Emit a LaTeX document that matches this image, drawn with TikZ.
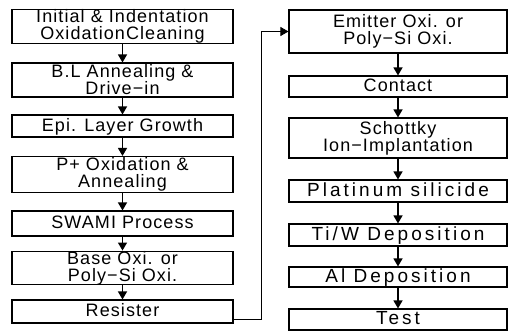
\documentclass[tikz,border=0pt]{standalone}
\usepackage{fontspec}
\setmainfont{Liberation Sans}
\usetikzlibrary{arrows.meta}

\begin{document}
\begin{tikzpicture}[
        x=1pt, y=-1pt,
        box/.style={draw, rectangle, line width=1.1pt, inner sep=0pt, align=center, font=\fontsize{18}{17}\selectfont\addfontfeature{LetterSpace=6}},
        oneline/.style={text height=13pt, text depth=3pt},
        leftbox/.style={box, minimum width=221pt},
        rightbox/.style={box, minimum width=218pt},
        widebox/.style={rightbox, oneline, font=\fontsize{19}{18}\selectfont\addfontfeature{LetterSpace=16}},
        arrow/.style={-{Triangle[length=8pt, width=9pt]}, line width=1.3pt}
    ]
        \useasboundingbox (0,0) rectangle (508,332);

        % Nodes
        \node[leftbox, minimum height=33pt] (initial) at (122.5,26.5) {Initial \& Indentation \\ OxidationCleaning};
        \node[leftbox, minimum height=34pt] (blanneal) at (122.5,80) {B.L Annealing \& \\ Drive−in};
        \node[leftbox, oneline, minimum height=22pt] (epi) at (122.5,126) {Epi. Layer Growth};
        \node[leftbox, minimum height=36pt] (poxide) at (122.5,174.5) {P+ Oxidation \& \\ Annealing};
        \node[leftbox, oneline, minimum height=25pt] (swami) at (122.5,223.5) {SWAMI Process};
        \node[leftbox, minimum height=32pt] (baseoxi) at (122.5,268) {Base Oxi. or \\ Poly−Si Oxi.};
        \node[leftbox, oneline, minimum height=23pt] (resister) at (122.5,311.5) {Resister};

        \node[rightbox, minimum height=43pt] (emitter) at (398,31.5) {Emitter Oxi. or \\ Poly−Si Oxi.};
        \node[rightbox, oneline, minimum height=21pt] (contact) at (398,86.5) {Contact};
        \node[rightbox, minimum height=40pt] (schottky) at (398,138) {Schottky \\ Ion−Implantation};
        \node[widebox, minimum height=22pt] (platinum) at (398,191) {Platinum silicide};
        \node[widebox, minimum height=22pt] (tiw) at (398,235) {Ti/W Deposition};
        \node[widebox, minimum height=20pt] (aldep) at (398,277) {Al Deposition};
        \node[widebox, minimum height=21pt] (test) at (398,319.5) {Test};

        % Arrows
        \draw[arrow] (initial) -- (blanneal);
        \draw[arrow] (blanneal) -- (epi);
        \draw[arrow] (epi) -- (poxide);
        \draw[arrow] (poxide) -- (swami);
        \draw[arrow] (swami) -- (baseoxi);
        \draw[arrow] (baseoxi) -- (resister);
        \draw[arrow, line width=0.9pt] ([yshift=-7.5pt]resister.east) -- ++(28,0) |- (emitter.west);
        \draw[arrow] (emitter) -- (contact);
        \draw[arrow] (contact) -- (schottky);
        \draw[arrow] (schottky) -- (platinum);
        \draw[arrow] (platinum) -- (tiw);
        \draw[arrow] (tiw) -- (aldep);
        \draw[arrow] (aldep) -- (test);
    \end{tikzpicture}
\end{document}
